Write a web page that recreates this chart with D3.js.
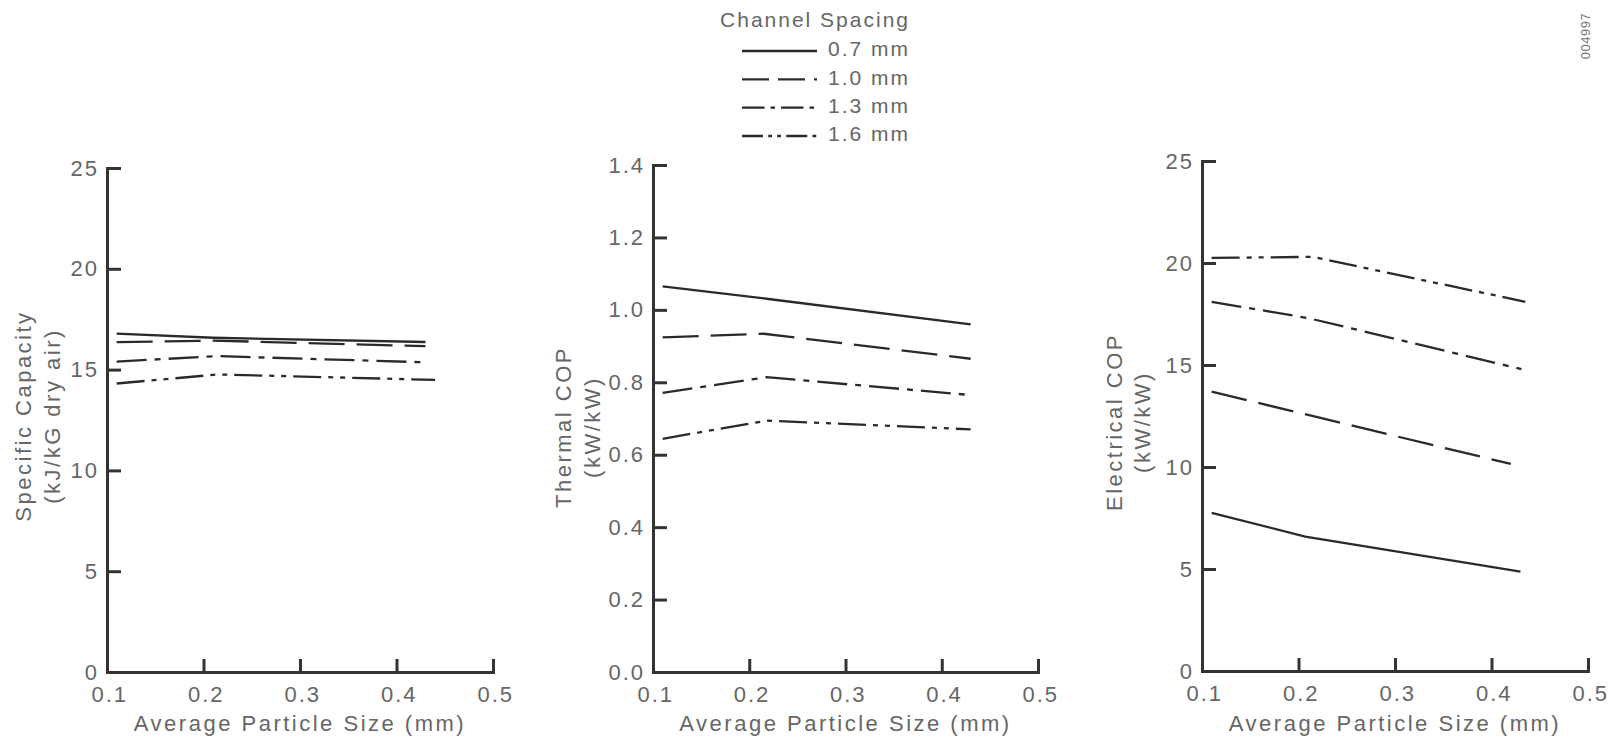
<!DOCTYPE html>
<html>
<head>
<meta charset="utf-8">
<script src="https://cdn.jsdelivr.net/npm/d3@7"></script>
<style>
  body { margin: 0; background: #fff; }
  svg { display: block; font-family: "Liberation Sans", Arial, sans-serif; }
  .axis path, .axis line { stroke: #333; stroke-width: 3; }
  .axis text { fill: #666; font-size: 22px; letter-spacing: 2px; }
  .title { fill: #666; font-size: 22px; letter-spacing: 2.5px; }
</style>
</head>
<body>
<div id="chart"></div>
<script>
// --- data ---
const xTicks = [0.1, 0.2, 0.3, 0.4, 0.5];
const seriesNames = ["0.7 mm", "1.0 mm", "1.3 mm", "1.6 mm"];

// Specific capacity (kJ/kG dry air)
const capX = [[0.11, 0.21, 0.43], [0.11, 0.21, 0.43], [0.11, 0.215, 0.43], [0.11, 0.215, 0.44]];
const capY = [[16.78, 16.58, 16.37], [16.36, 16.44, 16.16], [15.4, 15.67, 15.36], [14.31, 14.76, 14.49]];
const capTicks = [0, 5, 10, 15, 20, 25];

// Thermal COP (kW/kW)
const thermX = [[0.11, 0.22, 0.43], [0.11, 0.215, 0.43], [0.11, 0.218, 0.425], [0.11, 0.218, 0.43]];
const thermY = [[1.065, 1.03, 0.96], [0.924, 0.934, 0.865], [0.771, 0.814, 0.766], [0.644, 0.694, 0.67]];
const thermTicks = [0, 0.2, 0.4, 0.6, 0.8, 1.0, 1.2, 1.4];

// Electrical COP (kW/kW)
const elecX = [[0.11, 0.207, 0.43], [0.11, 0.21, 0.42], [0.11, 0.21, 0.431], [0.11, 0.215, 0.435]];
const elecY = [[7.75, 6.59, 4.87], [13.7, 12.55, 10.15], [18.1, 17.3, 14.8], [20.25, 20.3, 18.1]];
const elecTicks = [0, 5, 10, 15, 20, 25];

// line styles per channel spacing
const dashes = [null, "36,12", "30,8,6,8", "28,7,5,7,5,7"];

const W = 1610, H = 746;
const svg = d3.select("#chart").append("svg")
    .attr("width", W)
    .attr("height", H);

svg.append("rect").attr("width", W).attr("height", H).attr("fill", "#fff");

function drawPanel(p) {
    const x = d3.scaleLinear().domain([0.1, 0.5]).range([p.left, p.right]);
    const y = d3.scaleLinear().domain([0, d3.max(p.ticks)]).range([p.bottom, p.top]);

    const g = svg.append("g");

    g.append("g")
        .attr("class", "axis")
        .attr("transform", `translate(0,${p.bottom})`)
        .call(d3.axisBottom(x).tickValues(xTicks).tickFormat(d3.format(".1f"))
            .tickSizeInner(-13).tickSizeOuter(0).tickPadding(14))
        .call(a => a.selectAll("text").attr("dx", "0.1em"));

    g.append("g")
        .attr("class", "axis")
        .attr("transform", `translate(${p.left},0)`)
        .call(d3.axisLeft(y).tickValues(p.ticks).tickFormat(p.fmt)
            .tickSizeInner(-14).tickSizeOuter(0).tickPadding(8));

    g.selectAll(".axis path").attr("stroke-linecap", "square");

    const line = d3.line().x(d => x(d[0])).y(d => y(d[1]));
    p.xs.forEach((xs, i) => {
        const pts = xs.map((v, j) => [v, p.ys[i][j]]);
        g.append("path")
            .attr("d", line(pts))
            .attr("fill", "none")
            .attr("stroke", "#2a2a2a")
            .attr("stroke-width", 2.3)
            .attr("stroke-dasharray", dashes[i]);
    });

    g.append("text")
        .attr("class", "title")
        .attr("x", (p.left + p.right) / 2)
        .attr("y", 731)
        .attr("text-anchor", "middle")
        .text("Average Particle Size (mm)");

    p.ylab.forEach((t, i) => {
        g.append("text")
            .attr("class", "title")
            .attr("transform", `translate(${p.ylabX[i]},${p.ylabY}) rotate(-90)`)
            .attr("text-anchor", "middle")
            .attr("dy", "0.35em")
            .text(t);
    });
}

drawPanel({
    left: 107, right: 493, top: 168, bottom: 672,
    ticks: capTicks, fmt: d3.format("d"),
    xs: capX, ys: capY,
    ylab: ["Specific Capacity", "(kJ/kG dry air)"], ylabX: [23, 52], ylabY: 416
});
drawPanel({
    left: 653, right: 1038, top: 165, bottom: 672,
    ticks: thermTicks, fmt: d3.format(".1f"),
    xs: thermX, ys: thermY,
    ylab: ["Thermal COP", "(kW/kW)"], ylabX: [563, 592], ylabY: 427
});
drawPanel({
    left: 1202, right: 1588, top: 161, bottom: 671,
    ticks: elecTicks, fmt: d3.format("d"),
    xs: elecX, ys: elecY,
    ylab: ["Electrical COP", "(kW/kW)"], ylabX: [1114, 1142], ylabY: 422
});

// legend
const leg = svg.append("g");
leg.append("text")
    .attr("class", "title")
    .attr("x", 910).attr("y", 27)
    .attr("text-anchor", "end")
    .style("font-size", "21px").style("letter-spacing", "2px")
    .text("Channel Spacing");

const legY = d3.scalePoint().domain(seriesNames).range([49, 134]);
seriesNames.forEach((name, i) => {
    leg.append("line")
        .attr("x1", 742).attr("x2", 817)
        .attr("y1", legY(name) + 2).attr("y2", legY(name) + 2)
        .attr("stroke", "#2a2a2a")
        .attr("stroke-width", 2.3)
        .attr("stroke-dasharray", dashes[i] ? dashes[i].split(",").map(v => v * 0.75).join(",") : null);
    leg.append("text")
        .attr("class", "title")
        .attr("x", 910).attr("y", legY(name))
        .attr("dy", "0.35em")
        .attr("text-anchor", "end")
        .style("font-size", "21px").style("letter-spacing", "2px")
        .text(name);
});

// scan id in the corner
svg.append("text")
    .attr("transform", "translate(1585,36) rotate(-90)")
    .attr("text-anchor", "middle")
    .attr("dy", "0.35em")
    .attr("fill", "#777")
    .style("font-size", "13px")
    .style("letter-spacing", "0.5px")
    .text("004997");
</script>
</body>
</html>
